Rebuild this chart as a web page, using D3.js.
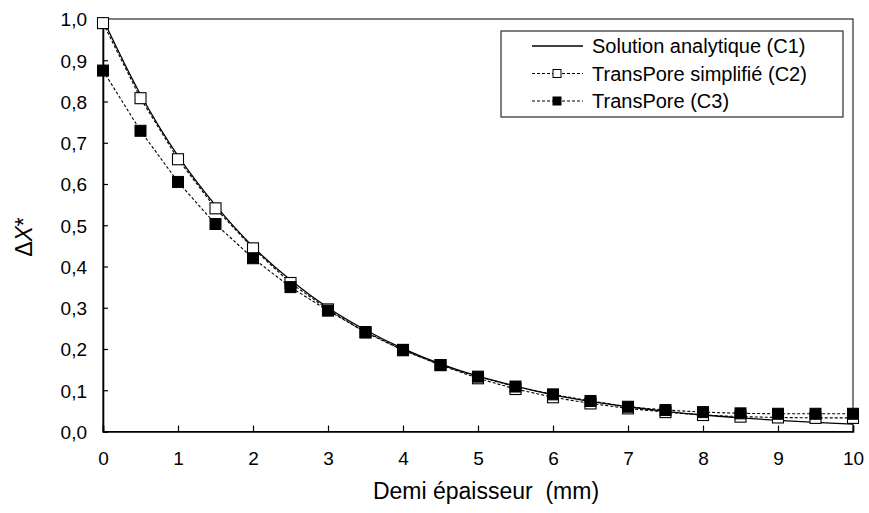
<!DOCTYPE html>
<html>
<head>
<meta charset="utf-8">
<script src="https://cdn.jsdelivr.net/npm/d3@7"></script>
<style>
  body { margin: 0; background: #fff; }
  svg text { font-family: "Liberation Sans", Arial, sans-serif; fill: #000; }
</style>
</head>
<body>
<svg id="chart" width="869" height="513"></svg>
<script>
// abscissa: half thickness (mm)
const xs = [0, 0.5, 1, 1.5, 2, 2.5, 3, 3.5, 4, 4.5, 5, 5.5, 6, 6.5, 7, 7.5, 8, 8.5, 9, 9.5, 10];
// Solution analytique (C1)
const c1 = [1.0, 0.817, 0.668, 0.548, 0.448, 0.367, 0.300, 0.246, 0.201, 0.164, 0.134, 0.110, 0.089, 0.073, 0.060, 0.049, 0.040, 0.033, 0.027, 0.022, 0.018];
// TransPore simplifie (C2)
const c2 = [0.99, 0.808, 0.660, 0.541, 0.444, 0.360, 0.296, 0.240, 0.197, 0.161, 0.129, 0.103, 0.083, 0.068, 0.056, 0.047, 0.040, 0.036, 0.034, 0.033, 0.033];
// TransPore (C3)
const c3 = [0.875, 0.729, 0.605, 0.503, 0.420, 0.350, 0.293, 0.241, 0.198, 0.161, 0.133, 0.109, 0.090, 0.074, 0.060, 0.052, 0.047, 0.044, 0.043, 0.043, 0.043];

const xTicks = d3.range(0, 11, 1);
const yTicks = d3.range(0, 11, 1).map(d => d / 10);
const legendLabels = ["Solution analytique (C1)", "TransPore simplifié (C2)", "TransPore (C3)"];

const svg = d3.select("#chart");
const plotLeft = 103, plotRight = 853, plotTop = 19, plotBottom = 431.5;

const x = d3.scaleLinear().domain([0, 10]).range([plotLeft, plotRight]);
const y = d3.scaleLinear().domain([0, 1]).range([plotBottom, plotTop]);

// plot frame
svg.append("rect")
  .attr("x", plotLeft).attr("y", plotTop)
  .attr("width", plotRight - plotLeft).attr("height", plotBottom - plotTop)
  .attr("fill", "none").attr("stroke", "#000").attr("stroke-width", 1);

// axes, ticks pointing inward
const fmt = d => d3.format(".1f")(d).replace(".", ",");
const yAxis = svg.append("g")
  .attr("transform", `translate(${plotLeft},0)`)
  .call(d3.axisLeft(y).tickValues(yTicks).tickSize(-5).tickPadding(16).tickFormat(fmt));
const xAxis = svg.append("g")
  .attr("transform", `translate(0,${plotBottom})`)
  .call(d3.axisBottom(x).tickValues(xTicks).tickSize(-6).tickPadding(20).tickFormat(d3.format("d")));

[yAxis, xAxis].forEach(g => {
  g.select(".domain").attr("stroke", "#000").attr("stroke-width", 1.6);
  g.selectAll(".tick line").attr("stroke", "#000").attr("stroke-width", 1.2);
  g.selectAll("text").style("font-size", "19px").attr("font-family", "Liberation Sans, Arial, sans-serif");
});
yAxis.selectAll(".tick text").attr("dy", "0.36em");

// axis titles
svg.append("text")
  .attr("x", 486).attr("y", 499)
  .attr("text-anchor", "middle")
  .style("font-size", "23px")
  .style("white-space", "pre")
  .text("Demi épaisseur  (mm)");

const yt = svg.append("text")
  .attr("transform", "translate(32,237) rotate(-90)")
  .attr("text-anchor", "middle")
  .style("font-size", "23px");
yt.append("tspan").text("Δ");
yt.append("tspan").attr("font-style", "italic").text("X");
yt.append("tspan").text("*");

// series
const pts = arr => xs.map((v, i) => [v, arr[i]]);

svg.append("path")
  .datum(pts(c1))
  .attr("fill", "none").attr("stroke", "#000").attr("stroke-width", 1.3)
  .attr("d", d3.line().x(d => x(d[0])).y(d => y(d[1])).curve(d3.curveCatmullRom));

[c2, c3].forEach(s => {
  svg.append("path")
    .datum(pts(s))
    .attr("fill", "none").attr("stroke", "#000").attr("stroke-width", 1.1)
    .attr("stroke-dasharray", "3,2")
    .attr("d", d3.line().x(d => x(d[0])).y(d => y(d[1])));
});

const ms = 11;
svg.append("g").selectAll("rect")
  .data(pts(c2)).join("rect")
  .attr("x", d => x(d[0]) - ms / 2).attr("y", d => y(d[1]) - ms / 2)
  .attr("width", ms).attr("height", ms)
  .attr("fill", "#fff").attr("stroke", "#000").attr("stroke-width", 1.1);

svg.append("g").selectAll("rect")
  .data(pts(c3)).join("rect")
  .attr("x", d => x(d[0]) - ms / 2).attr("y", d => y(d[1]) - ms / 2)
  .attr("width", ms).attr("height", ms)
  .attr("fill", "#000").attr("stroke", "#000").attr("stroke-width", 1);

// legend
const lg = svg.append("g");
lg.append("rect")
  .attr("x", 501).attr("y", 31).attr("width", 342).attr("height", 86)
  .attr("fill", "#fff").attr("stroke", "#000").attr("stroke-width", 1);

legendLabels.forEach((lab, i) => {
  const cy = 46 + i * 27.5;
  lg.append("line")
    .attr("x1", 532).attr("x2", 583).attr("y1", cy).attr("y2", cy)
    .attr("stroke", "#000").attr("stroke-width", i === 0 ? 1.3 : 1.1)
    .attr("stroke-dasharray", i === 0 ? null : "3,2");
  if (i > 0) {
    lg.append("rect")
      .attr("x", 557 - 4).attr("y", cy - 4).attr("width", 8).attr("height", 8)
      .attr("fill", i === 1 ? "#fff" : "#000").attr("stroke", "#000").attr("stroke-width", 1);
  }
  lg.append("text")
    .attr("x", 592).attr("y", cy).attr("dy", "0.36em")
    .style("font-size", "20px")
    .text(lab);
});
</script>
</body>
</html>
